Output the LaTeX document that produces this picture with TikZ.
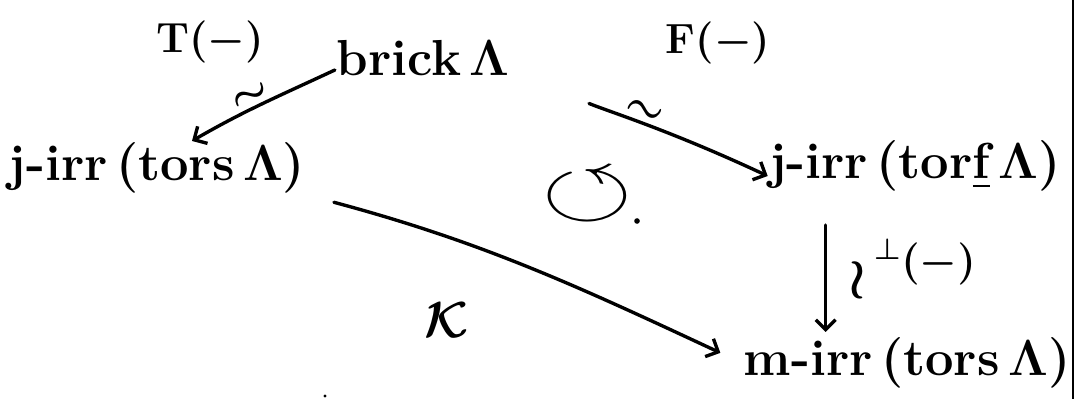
\RequirePackage{fix-cm}
\documentclass[tikz,border=0pt]{standalone}
\usepackage{amssymb}
\usepackage{fontspec}
\usetikzlibrary{arrows.meta,calc}
\begin{document}
\begin{tikzpicture}[x=0.025cm,y=-0.025cm,
  obj/.style={font=\fontsize{36}{40}\selectfont\bfseries\boldmath, inner sep=1pt},
  lbl/.style={font=\fontsize{30}{34}\selectfont\bfseries\boldmath, inner sep=0pt},
  arr/.style={line width=2.4pt, line cap=round,
    -{Straight Barb[length=7pt,width=14pt,line width=2.4pt]}},
  iso/.style={font=\fontsize{30}{34}\selectfont\bfseries\boldmath, inner sep=0pt, sloped},
]
\useasboundingbox (0,0) rectangle (1076,399);
% objects
\node[obj] (brick) at (423,58) {brick\,$\Lambda$};
\node[obj] (jt) at (157,168) {j-irr\,(tors\,$\Lambda$)};
\node[obj] (jf) at (915,166) {j-irr\,(tor\underline{f}\,$\Lambda$)};
\node[obj] (mt) at (907,363) {m-irr\,(tors\,$\Lambda$)};
% labels
\node[lbl] (T) at (210,42) {T($-$)};
\node[lbl] (F) at (718,43) {F($-$)};
\node[obj] (K) at (447,320) {$\mathcal{K}$};
\node[font=\fontsize{56}{60}\selectfont\bfseries\boldmath, inner sep=1pt, xscale=1.5] (comm) at (587,196) {$\circlearrowleft$};
\fill (637,221) circle (2pt);
\node[font=\fontsize{40}{44}\selectfont\bfseries\boldmath, inner sep=1pt] (wr) at (857,280) {$\wr$};
\node[lbl] (perp) at (925,262) {${}^{\perp}(-)$};
% connectors
\draw[arr] ([yshift=-12*0.025cm]brick.west) to[out=205,in=30] node[iso,above=1pt,pos=0.55] {$\sim$} ([xshift=35*0.025cm]jt.north);
\draw[arr, shorten <=2.1cm] ([yshift=-14*0.025cm]brick.east) to[out=-22,in=155] node[iso,above=1pt,pos=0.5] {$\sim$} ([yshift=-10*0.025cm]jf.west);
\draw[arr, shorten <=0.7cm, shorten >=0.6cm] (jt.south east) to[out=-15,in=155] (mt.west);
\draw[arr, shorten <=0.8cm, shorten >=0.1cm] ($(jf.south west)+(58,0)$) coordinate (vs) -- (vs |- mt.north);
% frame edge and stray mark
\draw[line width=2pt] (1073,0) -- (1073,399);
\fill (325,396) circle (1.2pt);
\end{tikzpicture}
\end{document}
